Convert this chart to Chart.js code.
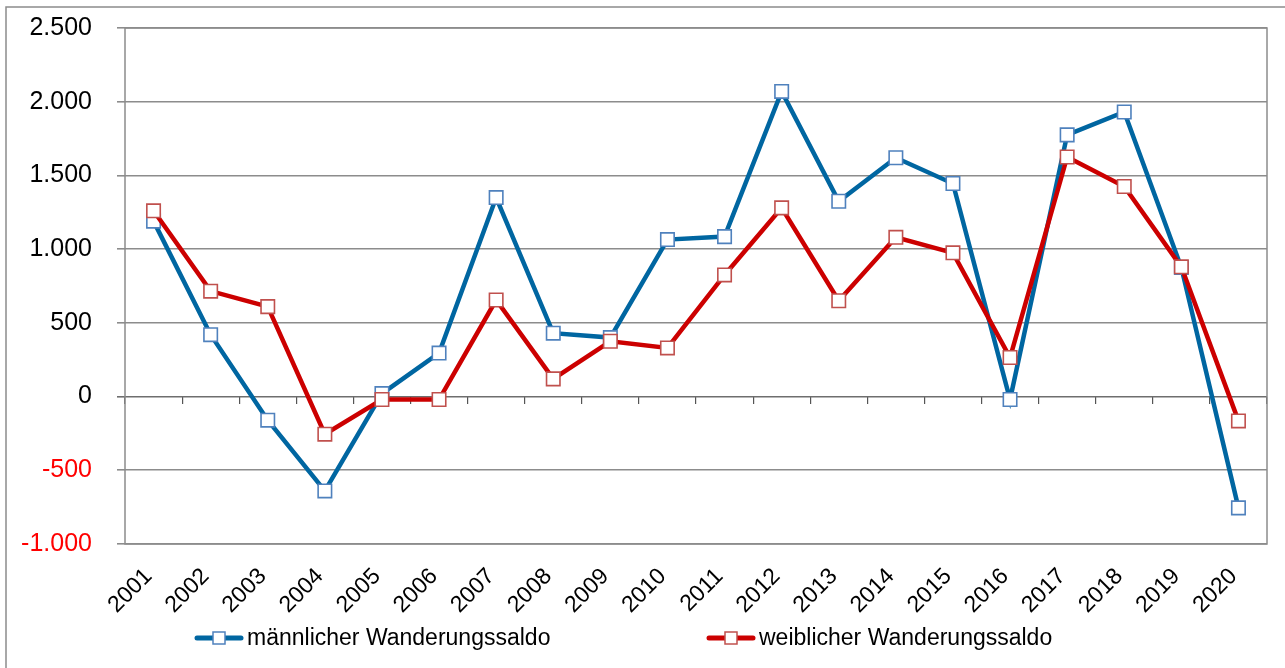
<!DOCTYPE html>
<html lang="de">
<head>
<meta charset="utf-8">
<title>Wanderungssaldo</title>
<script src="https://cdn.jsdelivr.net/npm/chart.js@4/dist/chart.umd.min.js"></script>
<style>
  html, body { margin: 0; padding: 0; background: #fff; }
  canvas { display: block; }
</style>
</head>
<body>
<canvas id="chart" width="1285" height="668"></canvas>
<script>
const jahre = ['2001', '2002', '2003', '2004', '2005', '2006', '2007', '2008', '2009', '2010',
               '2011', '2012', '2013', '2014', '2015', '2016', '2017', '2018', '2019', '2020'];
const maennlich = [1190, 420, -160, -640, 20, 295, 1350, 430, 400, 1065,
                   1085, 2070, 1325, 1620, 1445, -20, 1775, 1930, 875, -755];
const weiblich = [1260, 715, 610, -255, -20, -20, 655, 120, 375, 330,
                  825, 1280, 650, 1080, 975, 265, 1625, 1425, 880, -165];
const yMin = -1000;
const yMax = 2500;
const yStep = 500;
const serienNamen = ['männlicher Wanderungssaldo', 'weiblicher Wanderungssaldo'];

const FONT = '"Liberation Sans", Arial, sans-serif';
const GRAU = '#8c8c8c';
const BLAU = '#0066a1';
const ROT = '#cc0000';

// 2500 -> "2.500"
function deZahl(v) {
    const s = Math.abs(v).toString().replace(/\B(?=(\d{3})+(?!\d))/g, '.');
    return (v < 0 ? '-' : '') + s;
}

// Rahmen um die ganze Grafik und um die Zeichenfläche
const rahmenPlugin = {
    id: 'rahmen',
    beforeDraw(chart) {
        const ctx = chart.ctx;
        ctx.save();
        ctx.strokeStyle = GRAU;
        ctx.lineWidth = 1.5;
        ctx.strokeRect(6, 7, 1400, 800);
        ctx.restore();
    },
    beforeDatasetsDraw(chart) {
        const {ctx, chartArea: a} = chart;
        ctx.save();
        ctx.strokeStyle = GRAU;
        ctx.lineWidth = 1.5;
        ctx.strokeRect(a.left, a.top, a.right - a.left, a.bottom - a.top);
        ctx.restore();
    }
};

// Legende wie im Original: Linie mit Quadrat, zwei Einträge nebeneinander
const legendePlugin = {
    id: 'eigeneLegende',
    afterDraw(chart) {
        const ctx = chart.ctx;
        const y = 638;
        const eintraege = [
            {x: 195, farbe: BLAU, rand: '#4f81bd', text: serienNamen[0]},
            {x: 707, farbe: ROT, rand: '#c0504d', text: serienNamen[1]}
        ];
        ctx.save();
        eintraege.forEach(e => {
            ctx.strokeStyle = e.farbe;
            ctx.lineWidth = 5;
            ctx.lineCap = 'round';
            ctx.beginPath();
            ctx.moveTo(e.x + 2, y);
            ctx.lineTo(e.x + 46, y);
            ctx.stroke();
            ctx.fillStyle = '#fff';
            ctx.fillRect(e.x + 18, y - 6, 12, 12);
            ctx.strokeStyle = e.rand;
            ctx.lineWidth = 1.5;
            ctx.strokeRect(e.x + 18, y - 6, 12, 12);
            ctx.fillStyle = '#000';
            ctx.font = '23px ' + FONT;
            ctx.textBaseline = 'middle';
            ctx.textAlign = 'left';
            ctx.fillText(e.text, e.x + 52, y + 1);
        });
        ctx.restore();
    }
};

const linie = (label, daten, farbe, rand, order) => ({
    label: label,
    data: daten,
    borderColor: farbe,
    backgroundColor: farbe,
    borderWidth: 4.5,
    tension: 0,
    pointStyle: 'rect',
    pointRadius: 9.5,
    pointHoverRadius: 9.5,
    pointBackgroundColor: '#fff',
    pointBorderColor: rand,
    pointBorderWidth: 1.6,
    order: order
});

new Chart(document.getElementById('chart'), {
    type: 'line',
    data: {
        labels: jahre,
        datasets: [
            linie(serienNamen[0], maennlich, BLAU, '#4f81bd', 2),
            linie(serienNamen[1], weiblich, ROT, '#c0504d', 1)
        ]
    },
    options: {
        responsive: false,
        animation: false,
        devicePixelRatio: 1,
        layout: {padding: {left: 0, right: 18, top: 28, bottom: 0}},
        plugins: {
            legend: {display: false},
            tooltip: {enabled: false},
            title: {display: false}
        },
        scales: {
            x: {
                type: 'category',
                offset: true,
                grid: {display: false},
                border: {display: false},
                ticks: {
                    autoSkip: false,
                    minRotation: 45,
                    maxRotation: 45,
                    padding: 11,
                    labelOffset: -5,
                    color: '#000',
                    font: {family: FONT, size: 23}
                },
                afterFit(scale) { scale.height = 124; }
            },
            // nur für die Teilstriche an der Nulllinie
            x2: {
                type: 'category',
                axis: 'x',
                position: {y: 0},
                offset: true,
                grid: {
                    display: true,
                    offset: true,
                    drawOnChartArea: false,
                    drawTicks: true,
                    tickLength: 7,
                    color: '#555',
                    lineWidth: 1.2
                },
                border: {display: false},
                ticks: {display: false}
            },
            y: {
                min: yMin,
                max: yMax,
                border: {display: false},
                grid: {
                    color: ctx => (ctx.tick && ctx.tick.value === 0) ? '#6e6e6e' : GRAU,
                    lineWidth: 1.6,
                    drawTicks: true,
                    tickLength: 8
                },
                ticks: {
                    stepSize: yStep,
                    padding: 25,
                    color: ctx => ctx.tick.value < 0 ? '#ff0000' : '#000',
                    font: {family: FONT, size: 25},
                    callback: v => deZahl(v)
                },
                afterFit(scale) {
                    scale.width = 125;
                    // Abstand oben nur über layout.padding steuern
                    scale.paddingTop = 0;
                    scale.paddingBottom = 0;
                }
            }
        }
    },
    plugins: [rahmenPlugin, legendePlugin]
});
</script>
</body>
</html>
